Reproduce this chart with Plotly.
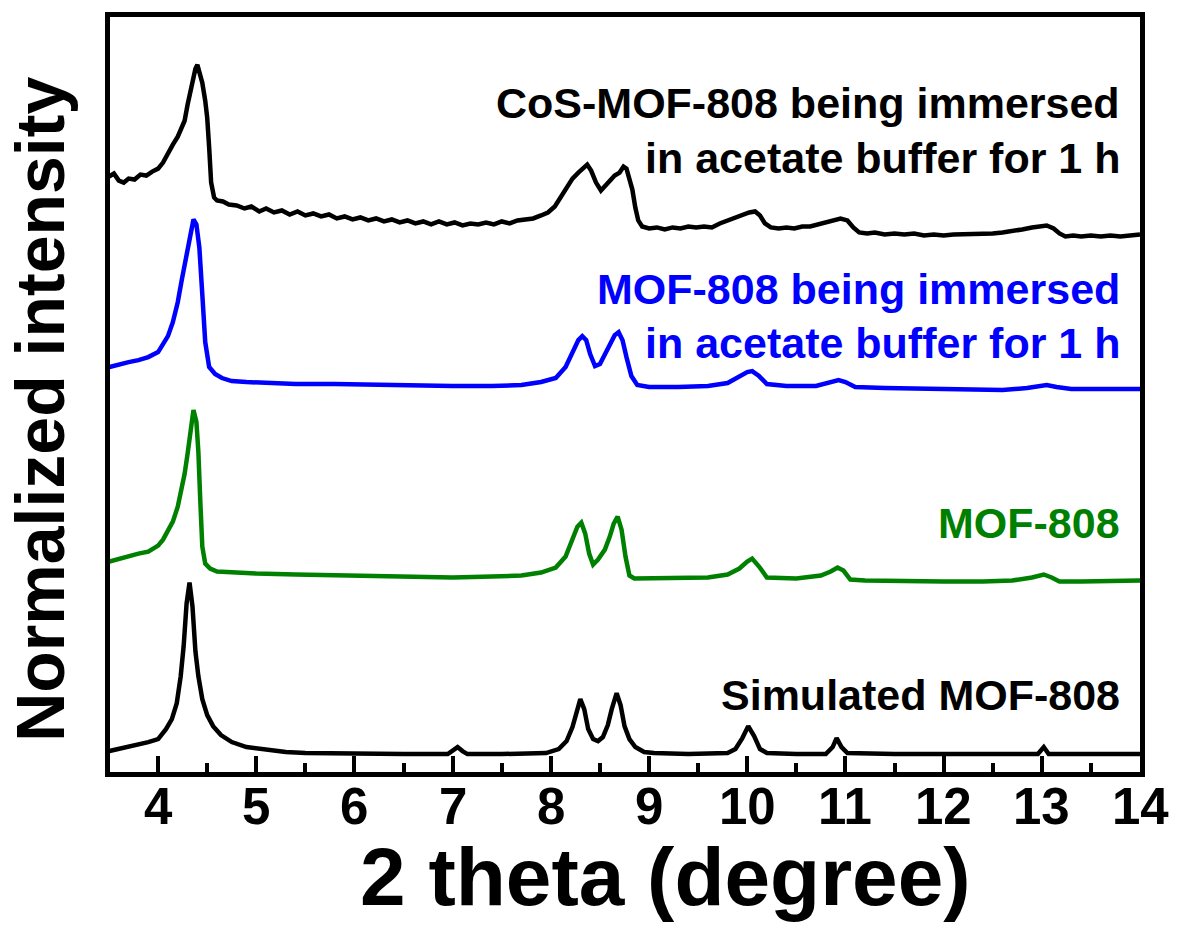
import plotly.graph_objects as go

# ---------------- data (2 theta in degree, stacked normalized intensity, a.u.) ----------------
cos_x = [3.50, 3.55, 3.60, 3.65, 3.70, 3.76, 3.82, 3.88, 3.94, 4.00,
         4.05, 4.10, 4.15, 4.20, 4.24, 4.27, 4.30, 4.33, 4.36, 4.38,
         4.40, 4.42, 4.45, 4.48, 4.50, 4.52, 4.54, 4.57, 4.60, 4.66,
         4.72, 4.80, 4.88, 4.95, 5.03, 5.10, 5.18, 5.26, 5.34, 5.42,
         5.50, 5.58, 5.66, 5.74, 5.82, 5.90, 5.98, 6.06, 6.14, 6.22,
         6.30, 6.38, 6.46, 6.54, 6.62, 6.70, 6.78, 6.86, 6.94, 7.02,
         7.10, 7.18, 7.26, 7.34, 7.42, 7.50, 7.58, 7.66, 7.74, 7.82,
         7.90, 7.97, 8.04, 8.10, 8.16, 8.22, 8.28, 8.33, 8.37, 8.41,
         8.46, 8.51, 8.55, 8.60, 8.65, 8.70, 8.74, 8.77, 8.80, 8.83,
         8.86, 8.89, 8.93, 9.00, 9.08, 9.16, 9.24, 9.32, 9.40, 9.48,
         9.56, 9.64, 9.72, 9.80, 9.88, 9.95, 10.02, 10.08, 10.13, 10.18,
         10.24, 10.32, 10.40, 10.48, 10.56, 10.64, 10.72, 10.80, 10.88, 10.95,
         11.02, 11.08, 11.14, 11.22, 11.30, 11.40, 11.50, 11.60, 11.70, 11.80,
         11.90, 12.00, 12.10, 12.20, 12.30, 12.40, 12.50, 12.60, 12.70, 12.80,
         12.90, 12.98, 13.05, 13.12, 13.18, 13.24, 13.32, 13.40, 13.50, 13.60,
         13.70, 13.80, 13.90, 14.00]
cos_y = [596, 599, 592, 590, 594, 593, 598, 597, 601, 604,
         610, 620, 628, 636, 645, 652, 668, 682, 695, 704,
         708, 702, 690, 672, 655, 625, 590, 575, 572, 571,
         568, 567, 564, 566, 561, 564, 560, 562, 558, 561,
         557, 559, 556, 558, 554, 556, 553, 555, 552, 554,
         551, 553, 550, 552, 549, 551, 548, 551, 548, 550,
         547, 549, 548, 550, 548, 551, 549, 552, 553, 554,
         557, 560, 566, 575, 585, 594, 600, 605, 608, 602,
         590, 582, 586, 592, 597, 600, 606, 604, 595, 583,
         565, 552, 546, 544, 545, 543, 545, 544, 546, 545,
         546, 545, 549, 552, 555, 558, 560, 561, 557, 549,
         545, 544, 545, 544, 546, 546, 548, 550, 553, 554,
         552, 545, 540, 539, 540, 538, 539, 538, 539, 537,
         538, 537, 538, 538, 539, 538, 539, 540, 541, 543,
         545, 546, 547, 544, 539, 536, 537, 536, 537, 536,
         537, 536, 537, 538]

blue_x = [3.50, 3.60, 3.70, 3.80, 3.90, 4.00, 4.05, 4.10, 4.15, 4.20,
          4.24, 4.27, 4.30, 4.33, 4.36, 4.39, 4.42, 4.45, 4.48, 4.52,
          4.58, 4.65, 4.75, 4.90, 5.10, 5.40, 5.80, 6.20, 6.60, 7.00,
          7.40, 7.70, 7.90, 8.05, 8.15, 8.22, 8.28, 8.32, 8.36, 8.40,
          8.45, 8.50, 8.55, 8.60, 8.65, 8.69, 8.73, 8.77, 8.82, 8.88,
          9.00, 9.30, 9.60, 9.80, 9.92, 10.00, 10.05, 10.12, 10.20, 10.40,
          10.70, 10.85, 10.93, 11.00, 11.10, 11.40, 11.80, 12.20, 12.60, 12.85,
          13.05, 13.15, 13.30, 13.60, 14.00]
blue_y = [405, 408, 410, 412, 415, 420, 428, 436, 450, 470,
          492, 508, 526, 542, 553, 548, 525, 478, 430, 405,
          398, 394, 391, 390, 389, 388, 388, 387, 386, 386,
          386, 387, 390, 394, 405, 420, 432, 436, 432, 418,
          406, 408, 418, 428, 437, 440, 432, 415, 396, 387,
          385, 385, 386, 389, 395, 400, 401, 396, 388, 386,
          386, 390, 392, 390, 385, 384, 383, 382, 382, 384,
          387, 385, 383, 383, 383]

green_x = [3.50, 3.60, 3.70, 3.80, 3.90, 4.00, 4.05, 4.10, 4.15, 4.20,
           4.24, 4.27, 4.30, 4.33, 4.36, 4.39, 4.41, 4.43, 4.45, 4.48,
           4.53, 4.60, 4.75, 5.00, 5.40, 5.80, 6.20, 6.60, 7.00, 7.40,
           7.70, 7.90, 8.05, 8.15, 8.22, 8.27, 8.31, 8.35, 8.39, 8.43,
           8.48, 8.55, 8.60, 8.64, 8.68, 8.72, 8.76, 8.80, 8.85, 8.95,
           9.30, 9.60, 9.80, 9.92, 10.00, 10.05, 10.12, 10.20, 10.50, 10.75,
           10.85, 10.92, 10.98, 11.05, 11.20, 11.60, 12.00, 12.40, 12.70, 12.90,
           13.02, 13.10, 13.18, 13.40, 13.80, 14.00]
green_y = [210, 213, 215, 218, 220, 226, 232, 240, 250, 265,
           282, 298, 318, 340, 362, 350, 320, 270, 225, 208,
           203, 200, 199, 198, 197, 196, 195, 195, 194, 195,
           196, 199, 204, 215, 232, 245, 249, 238, 218, 207,
           212, 222, 235, 248, 255, 242, 215, 196, 193, 193,
           193, 194, 197, 203, 210, 213, 205, 194, 193, 196,
           200, 204, 201, 192, 191, 190, 190, 190, 191, 194,
           197, 194, 190, 190, 191, 191]

sim_x = [3.50, 3.70, 3.90, 4.00, 4.08, 4.14, 4.19, 4.23, 4.26, 4.29,
         4.32, 4.35, 4.38, 4.41, 4.45, 4.50, 4.56, 4.64, 4.75, 4.90,
         5.10, 5.30, 5.50, 6.00, 6.50, 6.95, 7.00, 7.05, 7.10, 7.15,
         7.50, 7.80, 7.95, 8.08, 8.16, 8.22, 8.26, 8.30, 8.34, 8.38,
         8.43, 8.48, 8.53, 8.58, 8.62, 8.67, 8.71, 8.75, 8.80, 8.86,
         8.95, 9.05, 9.40, 9.80, 9.88, 9.95, 10.01, 10.07, 10.13, 10.20,
         10.50, 10.80, 10.87, 10.91, 10.96, 11.02, 11.50, 12.00, 12.50, 12.96,
         13.02, 13.07, 13.50, 14.00]
sim_y = [20, 24, 29, 32, 42, 52, 68, 95, 125, 168,
         189, 165, 120, 95, 72, 56, 45, 36, 29, 24,
         21, 19, 18, 17, 17, 17, 21, 24, 20, 17,
         17, 17, 18, 22, 30, 44, 58, 72, 62, 42,
         32, 30, 34, 46, 62, 78, 66, 45, 32, 24,
         19, 18, 17, 18, 22, 33, 45, 35, 22, 18,
         17, 17, 24, 33, 24, 18, 17, 17, 17, 17,
         24, 17, 17, 17]

x_ticks = [4, 5, 6, 7, 8, 9, 10, 11, 12, 13, 14]
x_tick_labels = ["4", "5", "6", "7", "8", "9", "10", "11", "12", "13", "14"]

series = [
    (cos_x, cos_y, "#000000"),
    (blue_x, blue_y, "#0000FF"),
    (green_x, green_y, "#008000"),
    (sim_x, sim_y, "#000000"),
]

labels = [
    ("CoS-MOF-808 being immersed", 670, "#000000"),
    ("in acetate buffer for 1 h", 615, "#000000"),
    ("MOF-808 being immersed", 483, "#0000FF"),
    ("in acetate buffer for 1 h", 429, "#0000FF"),
    ("MOF-808", 249, "#008000"),
    ("Simulated MOF-808", 76, "#000000"),
]

FONT = "Liberation Sans, Arial, Helvetica, sans-serif"

fig = go.Figure()
for xs, ys, col in series:
    fig.add_trace(go.Scatter(x=xs, y=ys, mode="lines",
                             line=dict(color=col, width=4.5), showlegend=False))

for txt, yv, col in labels:
    fig.add_annotation(x=13.82, y=yv, xref="x", yref="y", text=txt,
                       xanchor="right", yanchor="middle", showarrow=False,
                       font=dict(family=FONT, size=43, color=col, weight="bold"))

# tick labels (placed close to the axis as in the reference)
for tv, tl in zip(x_ticks, x_tick_labels):
    fig.add_annotation(x=tv, y=-0.046, xref="x", yref="paper", text=tl,
                       xanchor="center", yanchor="middle", showarrow=False,
                       font=dict(family=FONT, size=51, color="black", weight="bold"))

fig.add_annotation(x=-0.068, y=0.481, xref="paper", yref="paper",
                   text="Normalized intensity", textangle=-90, showarrow=False,
                   xanchor="center", yanchor="middle",
                   font=dict(family=FONT, size=68, color="black", weight="bold"))
fig.add_annotation(x=0.539, y=-0.139, xref="paper", yref="paper",
                   text="2 theta (degree)", showarrow=False,
                   xanchor="center", yanchor="middle",
                   font=dict(family=FONT, size=82, color="black", weight="bold"))

fig.update_xaxes(range=[3.51, 14], tickmode="array", tickvals=x_ticks,
                 showticklabels=False,
                 ticks="inside", ticklen=16, tickwidth=4, tickcolor="black",
                 minor=dict(ticks="inside", ticklen=9, tickwidth=4, tickcolor="black",
                            dtick=0.5, tick0=3.5),
                 showline=True, linewidth=5, linecolor="black", mirror=True,
                 showgrid=False, zeroline=False)
fig.update_yaxes(range=[-1, 756], showticklabels=False, ticks="",
                 showline=True, linewidth=5, linecolor="black", mirror=True,
                 showgrid=False, zeroline=False)

fig.update_layout(width=1184, height=932,
                  margin=dict(l=110, r=44, t=15, b=160),
                  plot_bgcolor="white", paper_bgcolor="white",
                  font=dict(family=FONT, color="black"))

fig.write_html("out.html")
